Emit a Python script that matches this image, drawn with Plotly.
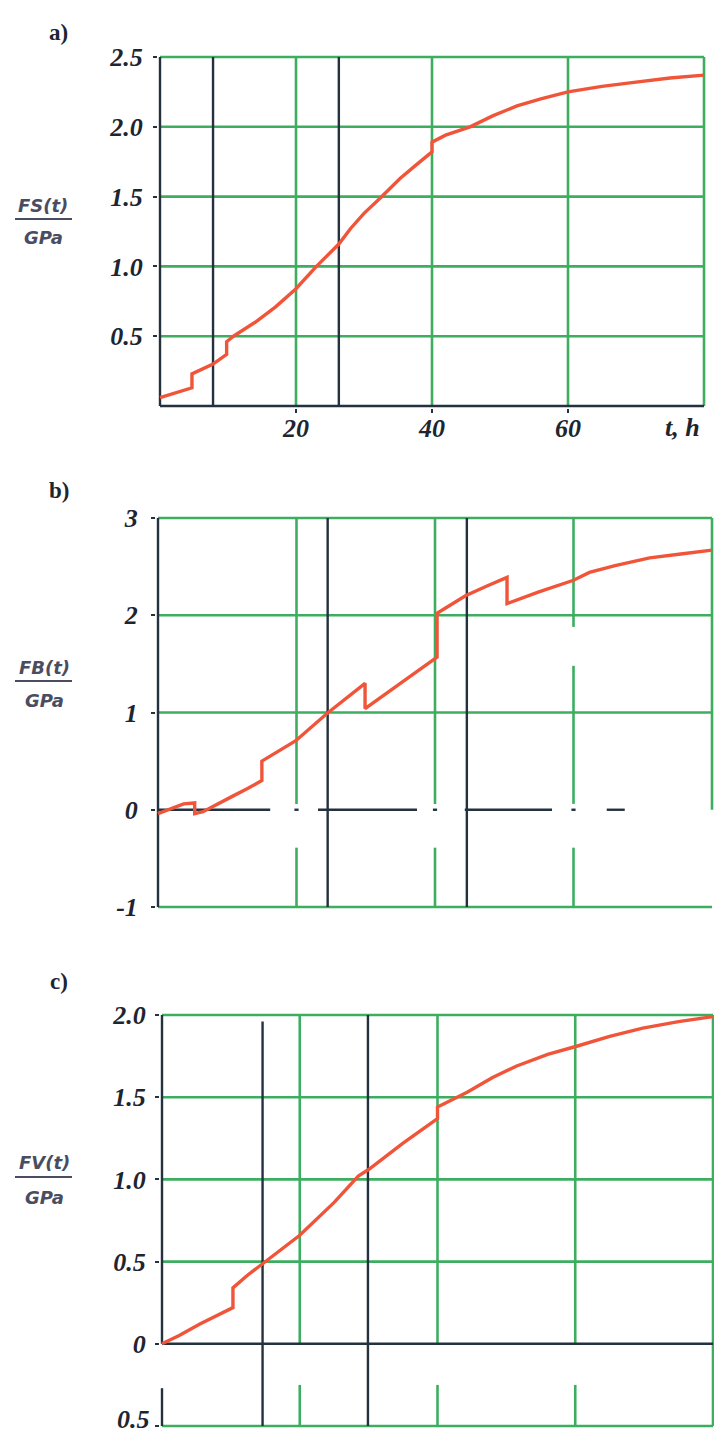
import plotly.graph_objects as go

W, H = 714, 1440

# ---------------- data ----------------
# panel a: FS(t)
a_t = [0, 2, 4.7, 4.7, 6, 7.8, 9.8, 9.8, 10.8, 14, 17, 20, 23, 26.3, 28, 30, 32.4, 35.3, 37.5, 40, 40, 42, 45.6, 49, 52.5, 56, 60, 65, 70, 75, 80]
a_y = [0.06, 0.09, 0.13, 0.23, 0.26, 0.30, 0.37, 0.46, 0.50, 0.60, 0.71, 0.84, 1.00, 1.16, 1.27, 1.38, 1.49, 1.63, 1.72, 1.82, 1.89, 1.94, 2.00, 2.08, 2.15, 2.20, 2.25, 2.29, 2.32, 2.35, 2.37]

# panel b: FB(t)
b_t = [0, 3.7, 5.3, 5.3, 6.5, 8.5, 10.8, 13, 15.0, 15.0, 17.5, 19.9, 24.4, 27.7, 29.9, 29.9, 33, 36.5, 40.3, 40.3, 44.4, 47.5, 50.4, 50.4, 55, 60, 62.3, 66, 71, 75.5, 80]
b_y = [-0.04, 0.06, 0.07, -0.04, -0.02, 0.05, 0.14, 0.22, 0.30, 0.50, 0.61, 0.71, 0.99, 1.17, 1.30, 1.04, 1.20, 1.37, 1.57, 2.02, 2.20, 2.30, 2.39, 2.12, 2.24, 2.36, 2.44, 2.51, 2.59, 2.63, 2.67]

# panel c: FV(t)
c_t = [0, 2.5, 5.5, 8, 10.3, 10.3, 12.5, 14.7, 17.5, 20, 25, 28.5, 30, 35, 40, 40, 44.3, 48, 51.5, 56, 60.2, 65, 69.8, 75, 80]
c_y = [0.0, 0.05, 0.12, 0.17, 0.22, 0.34, 0.42, 0.49, 0.58, 0.66, 0.86, 1.02, 1.06, 1.22, 1.37, 1.44, 1.53, 1.62, 1.69, 1.76, 1.81, 1.87, 1.92, 1.96, 1.99]

# grid / marker lines (x position, y from, y to)
a_green_v = [(20, 0, 2.5), (40, 0, 2.5), (60, 0, 2.5), (80, 0, 2.5)]
a_green_h = [0.5, 1.0, 1.5, 2.0, 2.5]
a_dark_v = [(0, 0, 2.5), (7.8, 0, 2.5), (26.3, 0, 2.5)]
a_dark_h = [(0, 0, 80)]

b_green_v = [(20, 0.06, 3), (20, -1, -0.39), (40, 0.06, 3), (40, -1, -0.39),
             (60, 1.88, 3), (60, 0.06, 1.48), (60, -1, -0.39), (80, 0.0, 3)]
b_green_h = [1, 2, 3, -1]
b_dark_v = [(0, -1, 3), (24.5, -1, 3), (44.6, -1, 3)]
b_dark_h = [(0, 0, 16.2), (0, 23.1, 37.4), (0, 44.3, 56.9), (0, 64.8, 67.4),
            (0, 19.7, 20.3), (0, 39.7, 40.3), (0, 59.7, 60.3)]

c_green_v = [(20, 0, 2.0), (20, -0.5, -0.25), (40, 0, 2.0), (40, -0.5, -0.25),
             (60, 0, 2.0), (60, -0.5, -0.25), (80, -0.5, 2.0)]
c_green_h = [0.5, 1.0, 1.5, 2.0, -0.5]
c_dark_v = [(0, 0, 2.0), (0, -0.5, -0.27), (14.6, -0.5, 1.96), (29.9, -0.5, 2.0)]
c_dark_h = [(0, 0, 80)]

a_yticks = [0.5, 1.0, 1.5, 2.0, 2.5]
a_yticktext = ["0.5", "1.0", "1.5", "2.0", "2.5"]
a_xticks = [20, 40, 60]
a_xticktext = ["20", "40", "60"]
b_yticks = [-1, 0, 1, 2, 3]
b_yticktext = ["-1", "0", "1", "2", "3"]
c_yticks = [-0.5, 0, 0.5, 1.0, 1.5, 2.0]
c_yticktext = ["", "0", "0.5", "1.0", "1.5", "2.0"]
c_bottom_label = "0.5"   # label of the lowest tick of panel c (printed without sign)

panel_letters = ["a)", "b)", "c)"]
ylabels = ["FS(t)", "FB(t)", "FV(t)"]
unit = "GPa"

# ---------------- styling ----------------
GREEN = "#3dae5f"
DARK = "#24313f"
RED = "#f0553a"
TXT = "#1d2530"
LBL = "#4a4d62"
SERIF = "Liberation Serif"

PAD = 2.0

def xsetup(px0, px1, d0, d1):
    s = (px1 - px0) / (d1 - d0)
    pl = min(PAD, px0)
    pr = min(PAD, W - px1)
    return [(px0 - pl) / W, (px1 + pr) / W], [d0 - pl / s, d1 + pr / s]

def ysetup(py_top, py_bot, d0, d1):
    s = (py_bot - py_top) / (d1 - d0)
    pt = min(PAD, py_top)
    pb = min(PAD, H - py_bot)
    return [1 - (py_bot + pb) / H, 1 - (py_top - pt) / H], [d0 - pb / s, d1 + pt / s]

panels = [
    dict(px=(160, 704), py=(57, 406), yr=(0, 2.5), t=a_t, y=a_y,
         gv=a_green_v, gh=a_green_h, dv=a_dark_v, dh=a_dark_h,
         yt=a_yticks, ytt=a_yticktext, ystand=5),
    dict(px=(158, 712), py=(518, 907), yr=(-1, 3), t=b_t, y=b_y,
         gv=b_green_v, gh=b_green_h, dv=b_dark_v, dh=b_dark_h,
         yt=b_yticks, ytt=b_yticktext, ystand=8),
    dict(px=(162, 713), py=(1015, 1426), yr=(-0.5, 2.0), t=c_t, y=c_y,
         gv=c_green_v, gh=c_green_h, dv=c_dark_v, dh=c_dark_h,
         yt=c_yticks, ytt=c_yticktext, ystand=4),
]

TICKFONT = dict(family=SERIF, size=26, style="italic", weight="bold", color=TXT)

fig = go.Figure()
shapes = []
layout_axes = {}

for i, p in enumerate(panels):
    n = "" if i == 0 else str(i + 1)
    xa, ya = "x" + n, "y" + n
    xdom, xr = xsetup(p["px"][0], p["px"][1], 0, 80)
    ydom, yr = ysetup(p["py"][0], p["py"][1], p["yr"][0], p["yr"][1])

    xaxis = dict(domain=xdom, range=xr, anchor=ya, showgrid=False, zeroline=False,
                 showline=False, fixedrange=True, automargin=False)
    if i == 0:
        xaxis.update(tickmode="array", tickvals=a_xticks, ticktext=a_xticktext,
                     ticks="outside", ticklen=4, tickwidth=2, tickcolor=DARK,
                     tickfont=TICKFONT, ticklabelstandoff=-7,
                     ticklabeloverflow="allow")
    else:
        xaxis.update(showticklabels=False, ticks="")
    yaxis = dict(domain=ydom, range=yr, anchor=xa, showgrid=False, zeroline=False,
                 showline=False, fixedrange=True, automargin=False, tickmode="array",
                 tickvals=p["yt"], ticktext=p["ytt"], ticks="outside", ticklen=4,
                 tickwidth=2, tickcolor=DARK, tickfont=TICKFONT,
                 ticklabelstandoff=p["ystand"], ticklabeloverflow="allow")
    layout_axes["xaxis" + n] = xaxis
    layout_axes["yaxis" + n] = yaxis

    for (xv, y0, y1) in p["gv"]:
        shapes.append(dict(type="line", xref=xa, yref=ya, x0=xv, x1=xv, y0=y0, y1=y1,
                           line=dict(color=GREEN, width=2.6), layer="below"))
    for yv in p["gh"]:
        shapes.append(dict(type="line", xref=xa, yref=ya, x0=0, x1=80, y0=yv, y1=yv,
                           line=dict(color=GREEN, width=2.6), layer="below"))
    for (xv, y0, y1) in p["dv"]:
        shapes.append(dict(type="line", xref=xa, yref=ya, x0=xv, x1=xv, y0=y0, y1=y1,
                           line=dict(color=DARK, width=2.4), layer="below"))
    for (yv, x0, x1) in p["dh"]:
        shapes.append(dict(type="line", xref=xa, yref=ya, x0=x0, x1=x1, y0=yv, y1=yv,
                           line=dict(color=DARK, width=2.4), layer="below"))

    fig.add_trace(go.Scatter(x=p["t"], y=p["y"], mode="lines", xaxis=xa, yaxis=ya,
                             line=dict(color=RED, width=3.4), showlegend=False,
                             hoverinfo="skip"))

annotations = []
letter_pos = [(58, 32), (59, 490), (59, 981)]
label_pos = [(43, 205, 219, 238), (44, 667, 681, 700), (44, 1162, 1177, 1197)]
LBLFONT = dict(family="DejaVu Sans", size=18, weight="bold", style="italic", color=LBL)
for i in range(3):
    lx, ly = letter_pos[i]
    annotations.append(dict(x=lx / W, y=1 - ly / H, xref="paper", yref="paper",
                            text=panel_letters[i], showarrow=False,
                            xanchor="center", yanchor="middle",
                            font=dict(family=SERIF, size=23, weight="bold", color=TXT)))
    cx, ty, liney, by = label_pos[i]
    annotations.append(dict(x=cx / W, y=1 - ty / H, xref="paper", yref="paper",
                            text=ylabels[i], showarrow=False,
                            xanchor="center", yanchor="middle", font=LBLFONT))
    annotations.append(dict(x=cx / W, y=1 - by / H, xref="paper", yref="paper",
                            text=unit, showarrow=False,
                            xanchor="center", yanchor="middle", font=LBLFONT))
    shapes.append(dict(type="line", xref="paper", yref="paper",
                       x0=15 / W, x1=72 / W, y0=1 - liney / H, y1=1 - liney / H,
                       line=dict(color=LBL, width=2.2)))

# lowest tick label of panel c, kept fully inside the visible page
annotations.append(dict(x=0, y=-0.5, xref="x3", yref="y3", text=c_bottom_label,
                        showarrow=False, xanchor="right", yanchor="middle",
                        xshift=-10, yshift=7, font=TICKFONT))

# x-axis unit label for panel a, right-aligned at the t = 80 position
annotations.append(dict(x=80, y=0, xref="x", yref="y", text="t, h", showarrow=False,
                        xanchor="right", yanchor="top", yshift=-5, xshift=-2,
                        font=TICKFONT))

fig.update_layout(width=W, height=H, margin=dict(l=0, r=0, t=0, b=0, pad=0),
                  paper_bgcolor="white", plot_bgcolor="white",
                  shapes=shapes, annotations=annotations, **layout_axes)

fig.write_html("out.html")
